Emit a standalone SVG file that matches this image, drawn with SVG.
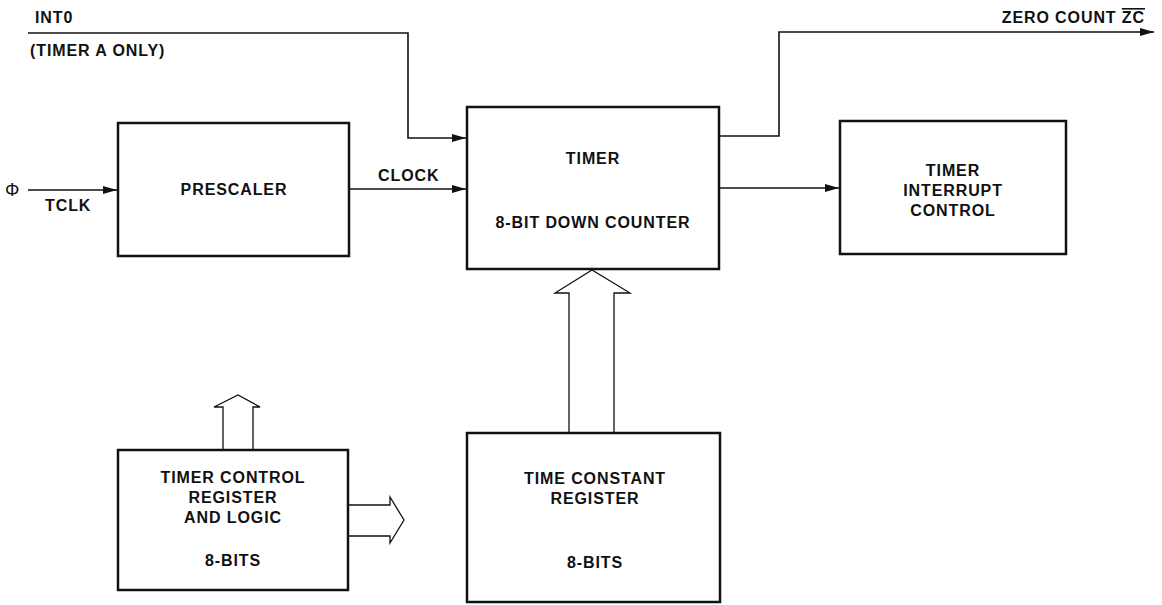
<svg xmlns="http://www.w3.org/2000/svg" width="1162" height="605" viewBox="0 0 1162 605">
<defs>
<style>
.box{fill:#fff;stroke:#111;stroke-width:2.5}
.ln{fill:none;stroke:#111;stroke-width:1.6}
.bus{fill:#fff;stroke:#111;stroke-width:1.3;stroke-linejoin:miter}
text{font-family:"Liberation Sans",Arial,sans-serif;font-weight:bold;font-size:16px;letter-spacing:0.9px;fill:#111}
.c{text-anchor:middle}
</style>
<marker id="ah" viewBox="0 0 14 8" refX="14" refY="4" markerWidth="14" markerHeight="8" markerUnits="userSpaceOnUse" orient="auto">
<path d="M0,0 L14,4 L0,8 Z" fill="#111"/>
</marker>
</defs>
<rect width="1162" height="605" fill="#fff"/>
<g id="connectors">
<polyline class="ln" points="28,33 408,33 408,138 466,138" marker-end="url(#ah)"/>
<line class="ln" x1="28" y1="190" x2="117" y2="190" marker-end="url(#ah)"/>
<line class="ln" x1="349" y1="189" x2="466" y2="189" marker-end="url(#ah)"/>
<polyline class="ln" points="719,136 779,136 779,32 1154,32" marker-end="url(#ah)"/>
<line class="ln" x1="719" y1="188" x2="839" y2="188" marker-end="url(#ah)"/>
<path id="bus-tc" class="bus" d="M569,433 L569,293 L555,293 L592,270 L630,293 L614,293 L614,433"/>
<path id="bus-up" class="bus" d="M223,450 L223,407 L214,407 L238,395 L260,407 L253,407 L253,450"/>
<path id="bus-right" class="bus" d="M348,505 L390,505 L390,497 L404,520 L390,543 L390,536 L348,536"/>
</g>
<g id="labels">
<text x="35" y="23">INT0</text>
<text x="30" y="56">(TIMER A ONLY)</text>
<text x="5" y="196" style="font-weight:normal;font-size:18px">Φ</text>
<text x="45" y="211">TCLK</text>
<text x="378" y="181">CLOCK</text>
<text x="1145" y="23" text-anchor="end">ZERO COUNT <tspan text-decoration="overline">ZC</tspan></text>
</g>
<g id="prescaler">
<rect class="box" x="118" y="123" width="231" height="133"/>
<text class="c" x="234" y="195">PRESCALER</text>
</g>
<g id="timer">
<rect class="box" x="467" y="107" width="252" height="162"/>
<text class="c" x="593" y="164">TIMER</text>
<text class="c" x="593" y="228">8-BIT DOWN COUNTER</text>
</g>
<g id="interrupt">
<rect class="box" x="840" y="121" width="226" height="133"/>
<text class="c" x="953" y="176">TIMER</text>
<text class="c" x="953" y="196">INTERRUPT</text>
<text class="c" x="953" y="216">CONTROL</text>
</g>
<g id="time-constant">
<rect class="box" x="467" y="433" width="253" height="169"/>
<text class="c" x="595" y="484">TIME CONSTANT</text>
<text class="c" x="595" y="504">REGISTER</text>
<text class="c" x="595" y="568">8-BITS</text>
</g>
<g id="timer-control">
<rect class="box" x="118" y="450" width="230" height="140"/>
<text class="c" x="233" y="483">TIMER CONTROL</text>
<text class="c" x="233" y="503">REGISTER</text>
<text class="c" x="233" y="523">AND LOGIC</text>
<text class="c" x="233" y="566">8-BITS</text>
</g>
</svg>
